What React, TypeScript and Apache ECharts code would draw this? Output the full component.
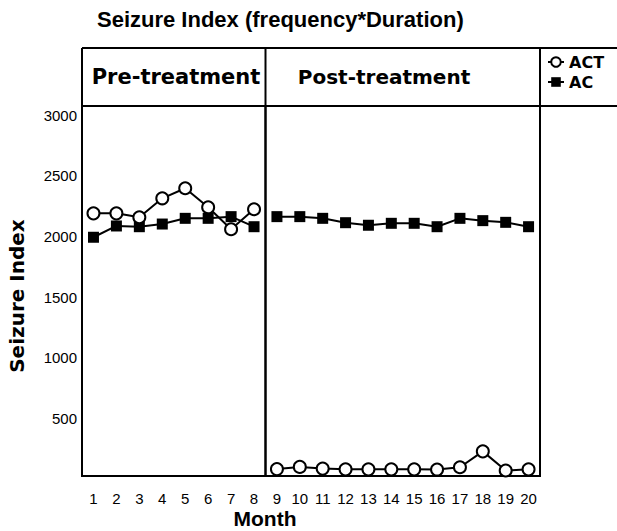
import { useEffect, useRef } from 'react';
import * as echarts from 'echarts';

const preMonths = ['1', '2', '3', '4', '5', '6', '7', '8'];
const postMonths = ['9', '10', '11', '12', '13', '14', '15', '16', '17', '18', '19', '20'];
const preACT = [2190, 2190, 2158, 2314, 2397, 2240, 2059, 2224];
const preAC = [1993, 2086, 2080, 2102, 2149, 2149, 2163, 2080];
const postACT = [82, 100, 86, 80, 80, 80, 80, 78, 97, 228, 70, 80];
const postAC = [2163, 2163, 2149, 2113, 2092, 2108, 2108, 2080, 2149, 2130, 2116, 2080];
const yTickValues = [500, 1000, 1500, 2000, 2500, 3000];
const seriesNames = ['ACT', 'AC'];
const titleText = 'Seizure Index (frequency*Duration)';
const panelTitles = ['Pre-treatment', 'Post-treatment'];
const yAxisTitle = 'Seizure Index';
const xAxisTitle = 'Month';

export default function App() {
  const ref = useRef<HTMLDivElement>(null);
  useEffect(() => {
    const chart = echarts.init(ref.current as HTMLDivElement, null, { renderer: 'svg' });
    const wideFamily = "'DejaVu Sans', 'Liberation Sans', sans-serif";
    const arialFamily = "'Liberation Sans', Arial, sans-serif";
    const L = 82, D = 265.5, R = 540, T = 106, B = 476, HT = 48, W = 617;
    const yMin = 25, yMax = 3075;

    const mk = (name: string, data: number[], xi: number, circle: boolean) => ({
      type: 'line',
      name,
      data,
      xAxisIndex: xi,
      yAxisIndex: xi,
      symbol: circle ? 'circle' : 'rect',
      symbolSize: circle ? 12 : 11,
      showAllSymbol: true,
      lineStyle: { color: '#000', width: 2 },
      itemStyle: circle
        ? { color: '#fff', borderColor: '#000', borderWidth: 2 }
        : { color: '#000', borderColor: '#000', borderWidth: 0 },
      emphasis: { disabled: true },
      z: circle ? 4 : 3,
    });

    const xAxisBase = (data: string[], idx: number) => ({
      type: 'category',
      gridIndex: idx,
      data,
      boundaryGap: true,
      axisLine: { show: false },
      axisTick: { show: false },
      splitLine: { show: false },
      axisLabel: { color: '#000', fontSize: 15, fontFamily: arialFamily, margin: 15, interval: 0 },
    });

    const hLine = (x1: number, y1: number, x2: number, y2: number) => ({
      type: 'line',
      shape: { x1, y1, x2, y2 },
      style: { stroke: '#000', lineWidth: 2 },
      z: 10,
    });

    const txt = (text: string, x: number, y: number, size: number, family: string, rotation = 0) => ({
      type: 'text',
      x,
      y,
      rotation,
      style: {
        text,
        fill: '#000',
        fontSize: size,
        fontWeight: 'bold',
        fontFamily: family,
        textAlign: 'center',
        textVerticalAlign: 'middle',
        align: 'center',
        verticalAlign: 'middle',
      },
      z: 10,
    });

    chart.setOption({
      animation: false,
      backgroundColor: '#fff',
      title: {
        text: titleText,
        left: 97,
        top: 8,
        padding: 0,
        textStyle: { fontFamily: arialFamily, fontWeight: 'bold', fontSize: 22, color: '#000' },
      },
      legend: {
        data: seriesNames,
        orient: 'vertical',
        left: 547,
        top: 54,
        padding: 0,
        itemWidth: 16,
        itemHeight: 12,
        itemGap: 4,
        textStyle: { fontFamily: wideFamily, fontWeight: 'bold', fontSize: 16, color: '#000' },
        selectedMode: false,
      },
      grid: [
        { left: L, top: T, width: D - L, height: B - T, show: true, borderColor: '#000', borderWidth: 2, backgroundColor: 'transparent' },
        { left: D, top: T, width: R - D, height: B - T, show: true, borderColor: '#000', borderWidth: 2, backgroundColor: 'transparent' },
      ],
      xAxis: [xAxisBase(preMonths, 0), xAxisBase(postMonths, 1)],
      yAxis: [
        {
          type: 'value',
          gridIndex: 0,
          min: yMin,
          max: yMax,
          axisLine: { show: false },
          axisTick: { show: false },
          splitLine: { show: false },
          axisLabel: {
            customValues: yTickValues,
            color: '#000',
            fontSize: 15,
            fontFamily: arialFamily,
            margin: 5,
            formatter: (v: number) => (v % 500 === 0 && v > 0 ? String(v) : ''),
          },
        },
        {
          type: 'value',
          gridIndex: 1,
          min: yMin,
          max: yMax,
          axisLine: { show: false },
          axisTick: { show: false },
          splitLine: { show: false },
          axisLabel: { show: false },
        },
      ],
      series: [
        mk(seriesNames[1], preAC, 0, false),
        mk(seriesNames[0], preACT, 0, true),
        mk(seriesNames[1], postAC, 1, false),
        mk(seriesNames[0], postACT, 1, true),
      ],
      graphic: [
        hLine(L, HT, W, HT),
        hLine(L, T, W, T),
        hLine(L, HT, L, T),
        hLine(D, HT, D, T),
        hLine(R, HT, R, T),
        txt(panelTitles[0], 176, 77, 21, wideFamily),
        txt(panelTitles[1], 384, 77, 20, wideFamily),
        txt(yAxisTitle, 17, 296, 20, wideFamily, Math.PI / 2),
        txt(xAxisTitle, 265, 518, 21, arialFamily),
      ],
    } as any);
    return () => chart.dispose();
  }, []);
  return <div ref={ref} style={{ position: 'absolute', left: 0, top: 0, width: 617, height: 531 }} />;
}
